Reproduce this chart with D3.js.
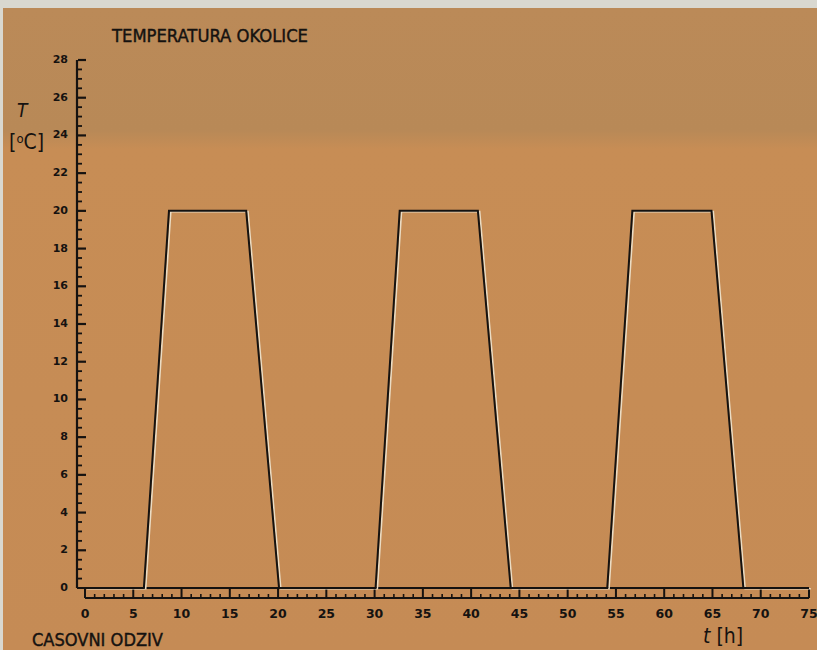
<!DOCTYPE html>
<html>
<head>
<meta charset="utf-8">
<script src="https://cdn.jsdelivr.net/npm/d3@7"></script>
<style>
  html, body { margin: 0; padding: 0; background: #d9d8d0; }
  svg { display: block; }
</style>
</head>
<body>
<svg id="chart"></svg>
<script>
// Data
const timeH = [0, 6.1, 8.7, 16.7, 20.1, 30.1, 32.6, 40.7, 44.1, 54.1, 56.7, 64.9, 68.2, 75];
const tempC = [0, 0, 20, 20, 0, 0, 20, 20, 0, 0, 20, 20, 0, 0];
const xTicks = [0, 5, 10, 15, 20, 25, 30, 35, 40, 45, 50, 55, 60, 65, 70, 75];
const yTicks = [0, 2, 4, 6, 8, 10, 12, 14, 16, 18, 20, 22, 24, 26, 28];

const width = 817;
const height = 650;

const svg = d3.select('#chart')
  .attr('width', width)
  .attr('height', height);

// Paper background (scanned look)
const defs = svg.append('defs');
const grad = defs.append('linearGradient')
  .attr('id', 'paper')
  .attr('x1', 0).attr('y1', 0).attr('x2', 0).attr('y2', 1);
grad.append('stop').attr('offset', '0%').attr('stop-color', '#bb8a58');
grad.append('stop').attr('offset', '19%').attr('stop-color', '#b88957');
grad.append('stop').attr('offset', '22%').attr('stop-color', '#c78d55');
grad.append('stop').attr('offset', '100%').attr('stop-color', '#c58b55');

svg.append('rect')
  .attr('x', 3).attr('y', 8)
  .attr('width', width - 3).attr('height', height - 8)
  .attr('fill', 'url(#paper)');

// Scales
const x = d3.scaleLinear().domain([0, 75]).range([85, 809]);
const y = d3.scaleLinear().domain([0, 28]).range([588, 60]);

const ink = '#151210';

// Y axis: vertical line with ticks pointing inward
const yAxis = svg.append('g');
yAxis.append('line')
  .attr('x1', 77).attr('x2', 77)
  .attr('y1', y(28)).attr('y2', y(0))
  .attr('stroke', ink).attr('stroke-width', 2.2);

const yMinor = d3.range(0.5, 28, 0.5).filter(v => v % 2 !== 0);
yAxis.selectAll('.minor')
  .data(yMinor)
  .enter().append('line')
  .attr('x1', 78).attr('x2', 82)
  .attr('y1', d => y(d)).attr('y2', d => y(d))
  .attr('stroke', ink).attr('stroke-width', 1.8);

yAxis.selectAll('.major')
  .data(yTicks.filter(v => v > 0))
  .enter().append('line')
  .attr('x1', 78).attr('x2', 86)
  .attr('y1', d => y(d)).attr('y2', d => y(d))
  .attr('stroke', ink).attr('stroke-width', 2.2);

yAxis.selectAll('text')
  .data(yTicks)
  .enter().append('text')
  .attr('x', 68)
  .attr('y', d => y(d) + 3)
  .attr('text-anchor', 'end')
  .attr('font-family', 'DejaVu Sans, sans-serif')
  .attr('font-weight', 'bold')
  .attr('font-size', 11)
  .attr('fill', ink)
  .text(d => d);

// X axis: baseline plus a ruler band below it
const xAxis = svg.append('g');
const bandTop = 589;
const bandBottom = 598;

xAxis.append('line')
  .attr('x1', 77).attr('x2', x(75))
  .attr('y1', y(0)).attr('y2', y(0))
  .attr('stroke', ink).attr('stroke-width', 2.2);

xAxis.append('line')
  .attr('x1', x(0)).attr('x2', x(75))
  .attr('y1', bandBottom).attr('y2', bandBottom)
  .attr('stroke', ink).attr('stroke-width', 2.2);

xAxis.selectAll('.major')
  .data(xTicks)
  .enter().append('line')
  .attr('x1', d => x(d)).attr('x2', d => x(d))
  .attr('y1', bandTop).attr('y2', bandBottom)
  .attr('stroke', ink).attr('stroke-width', 2);

xAxis.selectAll('.minor')
  .data(d3.range(1, 75).filter(v => v % 5 !== 0))
  .enter().append('line')
  .attr('x1', d => x(d)).attr('x2', d => x(d))
  .attr('y1', bandBottom - 4).attr('y2', bandBottom)
  .attr('stroke', ink).attr('stroke-width', 1.6);

xAxis.selectAll('text')
  .data(xTicks)
  .enter().append('text')
  .attr('x', d => x(d))
  .attr('y', 618)
  .attr('text-anchor', 'middle')
  .attr('font-family', 'DejaVu Sans, sans-serif')
  .attr('font-weight', 'bold')
  .attr('font-size', 12.5)
  .attr('fill', ink)
  .text(d => d);

// Temperature line
const line = d3.line()
  .x((d, i) => x(timeH[i]))
  .y(d => y(d));

svg.append('path')
  .datum(tempC)
  .attr('d', line)
  .attr('fill', 'none')
  .attr('stroke', '#eadcc4')
  .attr('stroke-width', 1.6)
  .attr('transform', 'translate(1.8,0.8)');

svg.append('path')
  .datum(tempC)
  .attr('d', line)
  .attr('fill', 'none')
  .attr('stroke', ink)
  .attr('stroke-width', 2)
  .attr('stroke-linejoin', 'miter');

// Labels
const labelFont = 'DejaVu Sans Condensed, DejaVu Sans, sans-serif';

svg.append('text')
  .attr('x', 112).attr('y', 42)
  .attr('font-family', labelFont)
  .attr('font-size', 18)
  .attr('textLength', 196)
  .attr('lengthAdjust', 'spacingAndGlyphs')
  .attr('fill', ink)
  .attr('stroke', ink).attr('stroke-width', 0.4)
  .text('TEMPERATURA  OKOLICE');

svg.append('text')
  .attr('x', 32).attr('y', 646)
  .attr('font-family', labelFont)
  .attr('font-size', 18)
  .attr('textLength', 131)
  .attr('lengthAdjust', 'spacingAndGlyphs')
  .attr('fill', ink)
  .attr('stroke', ink).attr('stroke-width', 0.4)
  .text('CASOVNI  ODZIV');

svg.append('text')
  .attr('x', 17).attr('y', 117)
  .attr('font-family', labelFont)
  .attr('font-style', 'italic')
  .attr('font-size', 19)
  .attr('fill', ink)
  .text('T');

const unitY = svg.append('text')
  .attr('x', 9).attr('y', 149)
  .attr('font-family', labelFont)
  .attr('font-size', 21)
  .attr('fill', ink);
unitY.append('tspan').text('[');
unitY.append('tspan').attr('font-size', 13).attr('dy', -6).text('o');
unitY.append('tspan').attr('dy', 6).text('C]');

const unitX = svg.append('text')
  .attr('x', 703).attr('y', 643)
  .attr('font-family', labelFont)
  .attr('font-size', 21)
  .attr('fill', ink);
unitX.append('tspan').attr('font-style', 'italic').text('t');
unitX.append('tspan').text(' [h]');
</script>
</body>
</html>
